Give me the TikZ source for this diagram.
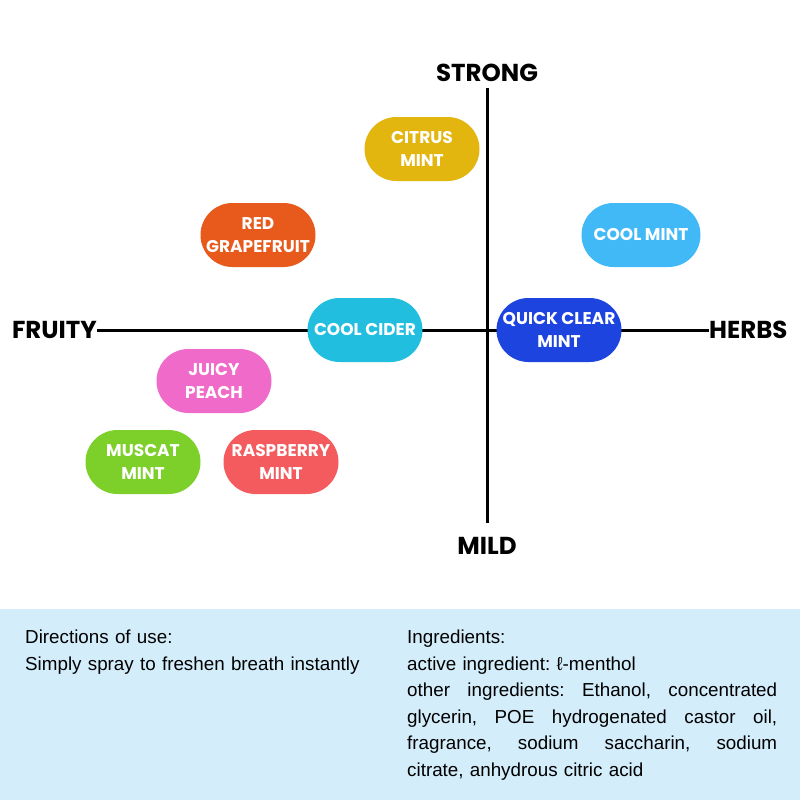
\documentclass[tikz,border=0pt]{standalone}
\usepackage{fontspec}
\setmainfont{Liberation Sans}
\newfontfamily\pop{Poppins}
\definecolor{panel}{HTML}{D4EDFB}
\definecolor{cgold}{HTML}{E2B50F}
\definecolor{corange}{HTML}{E75A1C}
\definecolor{clblue}{HTML}{41B9F7}
\definecolor{ccyan}{HTML}{22BEDF}
\definecolor{cblue}{HTML}{1E44E0}
\definecolor{cpink}{HTML}{F06AC9}
\definecolor{cgreen}{HTML}{7DCF2A}
\definecolor{cred}{HTML}{F45B5E}
\newcommand{\justline}[1]{\leavevmode\hbox to 370pt{#1}}
\begin{document}
\frenchspacing
\begin{tikzpicture}[x=1pt,y=-1pt,
 pill/.style={rectangle, rounded corners=32pt, minimum width=115pt, minimum height=64pt, inner sep=0pt, text=white, align=center, font=\pop\bfseries\fontsize{17}{23}\selectfont},
 axislbl/.style={font=\pop\bfseries\fontsize{24.5}{28}\selectfont, inner sep=0pt},
 axisline/.style={line width=3pt, black},
 body/.style={font=\frenchspacing\fontsize{18.8}{26.5}\selectfont, inner sep=0pt, anchor=base west, align=left}
]
\useasboundingbox (0,0) rectangle (800,800);
\fill[white] (0,0) rectangle (800,800);
\fill[panel] (0,609) rectangle (800,800);

% axes
\node[axislbl] (strong) at (487,73) {STRONG};
\node[axislbl] (mild) at (487,546) {MILD};
\node[axislbl, anchor=east] (fruity) at (97,330) {FRUITY};
\node[axislbl, anchor=west] (herbs) at (709,330) {HERBS};
\coordinate (vtop) at (487,88);
\coordinate (vbot) at (487,523);
\draw[axisline] (vtop) -- (vbot);
\draw[axisline] (fruity.east) -- (herbs.west);

% pills
\node[pill, fill=cgold] (citrus) at (422,149) {CITRUS\\MINT};
\node[pill, fill=corange] (grapefruit) at (258,235) {RED\\GRAPEFRUIT};
\node[pill, fill=clblue, minimum width=119pt] (coolmint) at (641,235) {COOL MINT};
\node[pill, fill=ccyan] (cider) at (365,330) {COOL CIDER};
\node[pill, fill=cblue, minimum width=125pt] (quick) at (559,330) {QUICK CLEAR\\MINT};
\node[pill, fill=cpink] (peach) at (214,381) {JUICY\\PEACH};
\node[pill, fill=cgreen] (muscat) at (143,462) {MUSCAT\\MINT};
\node[pill, fill=cred] (raspberry) at (281,462) {RASPBERRY\\MINT};

% bottom text
\node[body, text width=360pt] (directions) at (25,643.5) {Directions of use:\\Simply spray to freshen breath instantly};
\node[body, text width=370pt] (ingredients) at (407,643.5) {Ingredients:\\
active ingredient: ℓ-menthol\\
\justline{other\hfill ingredients:\hfill Ethanol,\hfill concentrated}\\
\justline{glycerin,\hfill POE\hfill hydrogenated\hfill castor\hfill oil,}\\
\justline{fragrance,\hfill sodium\hfill saccharin,\hfill sodium}\\
citrate, anhydrous citric acid};
\end{tikzpicture}
\end{document}
